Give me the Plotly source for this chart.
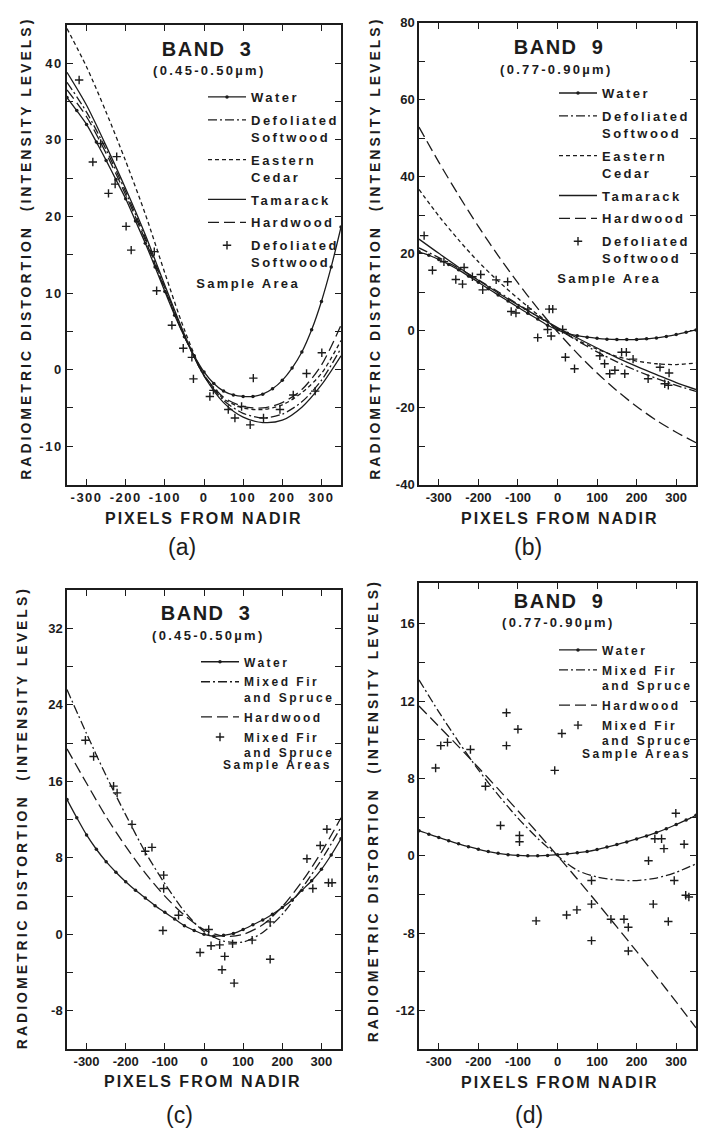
import plotly.graph_objects as go

# pixel positions (from nadir) at which the fitted curves were read
X50 = list(range(-350, 351, 50))
X25 = list(range(-350, 351, 25))

# ---- (a) band 3, defoliated softwood study
A_WATER = [35.5, 33.8, 32.0, 29.7, 27.3, 24.8, 22.3, 19.4, 16.5, 13.4, 10.2, 7.1, 4.3, 1.8, -0.3,
           -1.8, -2.8, -3.3, -3.5, -3.5, -3.2, -2.5, -1.4, 0.2, 2.3, 5.2, 8.9, 13.4, 18.6]
A_DEFOL = [37.5, 33.6, 28.7, 23.2, 17.2, 10.7, 4.4, -0.8, -4.0, -5.7, -6.3, -5.8, -4.2, -1.4, 2.8]
A_CEDAR = [44.5, 39.5, 33.6, 27.2, 20.3, 12.6, 5.2, -0.7, -3.8, -5.0, -5.2, -4.6, -3.0, -0.5, 3.8]
A_TAMARACK = [38.8, 34.5, 29.2, 23.6, 17.6, 11.0, 4.6, -0.8, -4.3, -6.2, -6.9, -6.6, -4.9, -2.0, 1.8]
A_HARDWOOD = [36.5, 33.0, 28.2, 22.8, 16.9, 10.5, 4.3, -0.7, -3.6, -4.8, -5.0, -4.3, -2.6, 0.6, 5.8]
A_SX = [-319, -284, -264, -244, -227, -223, -199, -186, -127, -121, -82, -53, -31, -27, 15, 24,
        62, 79, 96, 118, 126, 152, 194, 228, 262, 284, 301]
A_SY = [37.8, 27.1, 29.5, 23.0, 24.2, 27.8, 18.7, 15.6, 15.4, 10.3, 5.8, 2.8, 1.6, -1.2, -3.5, -2.7,
        -5.2, -6.3, -4.8, -7.2, -1.1, -6.3, -5.2, -3.3, -0.5, -2.8, 2.2]

# ---- (b) band 9, defoliated softwood study
B_WATER = [20.5, 19.6, 18.5, 17.2, 15.8, 14.2, 12.6, 10.9, 9.3, 7.7, 6.1, 4.5, 3.0, 1.4, 0.2,
           -0.7, -1.3, -1.7, -2.0, -2.2, -2.3, -2.3, -2.3, -2.1, -1.9, -1.5, -1.0, -0.4, 0.2]
B_DEFOL = [21.5, 19.0, 16.2, 13.2, 10.1, 6.9, 3.7, 0.5, -2.6, -5.5, -8.1, -10.4, -12.4, -14.2, -15.8]
B_CEDAR = [36.7, 29.8, 23.6, 17.9, 12.9, 8.4, 4.2, 0.5, -2.4, -4.8, -6.7, -7.9, -8.6, -8.8, -8.4]
B_TAMARACK = [23.8, 20.1, 16.5, 13.1, 9.8, 6.7, 3.7, 0.8, -1.9, -4.5, -7.0, -9.3, -11.4, -13.5, -15.3]
B_HARDWOOD = [52.9, 43.8, 35.2, 27.1, 19.5, 12.4, 5.8, -0.3, -5.9, -11.0, -15.6, -19.7, -23.3, -26.4, -29.1]
B_SX = [-337, -316, -287, -257, -240, -236, -215, -194, -189, -155, -126, -117, -105, -75, -50, -25,
        -21, -12, -16, 13, 20, 43, 107, 119, 132, 145, 162, 170, 174, 191, 229, 259, 271, 280, 282]
B_SY = [24.7, 15.7, 17.9, 13.3, 12.1, 16.4, 14.0, 14.6, 10.6, 13.2, 12.7, 5.0, 4.6, 5.6, -1.8, 0.3,
        5.6, 5.6, -1.4, 0.3, -6.9, -9.9, -6.5, -8.6, -11.2, -10.3, -5.6, -11.2, -5.6, -7.4, -12.5,
        -9.5, -13.8, -14.2, -11.0]

# ---- (c) band 3, mixed fir and spruce study
C_WATER = [14.1, 12.2, 10.4, 8.9, 7.6, 6.5, 5.5, 4.6, 3.8, 3.0, 2.3, 1.6, 0.9, 0.4, 0.0,
           -0.2, -0.1, 0.1, 0.5, 1.0, 1.5, 2.1, 2.8, 3.6, 4.6, 5.6, 6.8, 8.3, 10.0]
C_MIXED = [25.6, 21.0, 16.6, 12.5, 8.6, 5.3, 2.4, 0.3, -0.7, -0.8, 0.2, 2.1, 4.8, 7.8, 11.2]
C_HARDWOOD = [19.4, 15.8, 12.3, 9.2, 6.4, 4.0, 2.0, 0.5, -0.2, 0.0, 1.0, 2.9, 5.5, 8.6, 12.2]
C_SX = [-303, -282, -231, -222, -184, -150, -133, -103, -103, -65, -105, -10, 12, 18, 40, 46, 53,
        73, 77, 123, 169, 169, 263, 278, 297, 314, 318, 327]
C_SY = [20.3, 18.6, 15.5, 14.8, 11.5, 8.7, 9.1, 6.2, 4.8, 2.0, 0.4, -1.9, 0.5, -1.2, -1.1, -3.7, -2.3,
        -1.0, -5.1, -0.6, -2.6, 1.3, 7.9, 4.8, 9.3, 11.0, 5.4, 5.4]

# ---- (d) band 9, mixed fir and spruce study
# values are in the axis' own step units; the printed labels are uneven (16,12,8,0,-8,-12)
D_WATER = [1.3, 1.12, 0.95, 0.78, 0.62, 0.47, 0.34, 0.22, 0.13, 0.06, 0.02, 0.0, 0.0, 0.02, 0.06,
           0.1, 0.16, 0.22, 0.32, 0.45, 0.58, 0.72, 0.87, 1.03, 1.2, 1.4, 1.62, 1.85, 2.1]
D_MIXED = [9.1, 7.45, 5.9, 4.45, 3.15, 1.95, 0.9, 0.0, -0.75, -1.1, -1.25, -1.28, -1.15, -0.85, -0.42]
D_HARDWOOD = [7.75, 6.7, 5.65, 4.57, 3.46, 2.33, 1.18, 0.0, -1.2, -2.43, -3.68, -4.95, -6.25, -7.56, -8.9]
D_SX = [-308, -295, -278, -220, -182, -144, -129, -129, -100, -96, -96, -54, -7, 11, 23, 49, 86, 86,
        86, 135, 168, 179, 179, 230, 242, 246, 263, 269, 280, 295, 299, 320, 324, 332]
D_SY = [4.54, 5.7, 5.87, 5.5, 3.6, 1.57, 7.4, 5.7, 6.55, 1.05, 0.73, -3.37, 4.42, 6.33, -3.06, -2.8,
        -1.28, -2.5, -4.39, -3.28, -3.28, -3.7, -4.93, -0.26, -2.5, 0.88, 0.88, 0.37, -3.4, -1.28,
        2.2, 0.6, -2.04, -2.13]

# tick labels
X_TICKS = [-300, -200, -100, 0, 100, 200, 300]
A_YTICKS = [-10, -5, 0, 5, 10, 15, 20, 25, 30, 35, 40]
A_YTEXT = ['-10', '', '0', '', '10', '', '20', '', '30', '', '40']
B_YTICKS = [-40, -30, -20, -10, 0, 10, 20, 30, 40, 50, 60, 70, 80]
B_YTEXT = ['-40', '', '-20', '', '0', '', '20', '', '40', '', '60', '', '80']
C_YTICKS = [-8, -4, 0, 4, 8, 12, 16, 20, 24, 28, 32]
C_YTEXT = ['-8', '', '0', '', '8', '', '16', '', '24', '', '32']
D_YTICKS = [-8, -6, -4, -2, 0, 2, 4, 6, 8, 10, 12]
D_YTEXT = ['-12', '', '-8', '', '0', '', '8', '', '12', '', '16']

INK = '#1c1c1c'
FONT = 'Liberation Sans, Arial, sans-serif'
W, H = 702, 1136

DASH = {
    'water': 'solid',
    'defol': '9px,3px,2px,3px',
    'cedar': '4px,3px',
    'tamarack': 'solid',
    'hardwood': '11px,5px',
}

fig = go.Figure()


def curve(x, y, name, kind, ax, leg):
    water = kind == 'water'
    n = len(fig.data)
    fig.add_trace(go.Scatter(
        x=x, y=y, name=name, mode='lines+markers' if water else 'lines',
        line=dict(color=INK, width=1.3, dash=DASH[kind], shape='spline', smoothing=0.8),
        marker=dict(size=3.5, color=INK),
        xaxis='x' + ax, yaxis='y' + ax, legend=leg,
        legendgroup=f'g{n}', legendrank=n, hoverinfo='skip'))


def samples(x, y, name, ax, leg):
    n = len(fig.data)
    fig.add_trace(go.Scatter(
        x=x, y=y, name=name, mode='markers',
        marker=dict(symbol='cross-thin', size=6, line=dict(color=INK, width=1.4)),
        xaxis='x' + ax, yaxis='y' + ax, legend=leg,
        legendgroup=f'g{n}', legendrank=n, hoverinfo='skip'))


# (a)
curve(X25, A_WATER, 'Water', 'water', '', 'legend')
curve(X50, A_DEFOL, 'Defoliated<br>Softwood', 'defol', '', 'legend')
curve(X50, A_CEDAR, 'Eastern<br>Cedar', 'cedar', '', 'legend')
curve(X50, A_TAMARACK, 'Tamarack', 'tamarack', '', 'legend')
curve(X50, A_HARDWOOD, 'Hardwood', 'hardwood', '', 'legend')
samples(A_SX, A_SY, 'Defoliated<br>Softwood', '', 'legend')
# (b)
curve(X25, B_WATER, 'Water', 'water', '2', 'legend2')
curve(X50, B_DEFOL, 'Defoliated<br>Softwood', 'defol', '2', 'legend2')
curve(X50, B_CEDAR, 'Eastern<br>Cedar', 'cedar', '2', 'legend2')
curve(X50, B_TAMARACK, 'Tamarack', 'tamarack', '2', 'legend2')
curve(X50, B_HARDWOOD, 'Hardwood', 'hardwood', '2', 'legend2')
samples(B_SX, B_SY, 'Defoliated<br>Softwood', '2', 'legend2')
# (c)
curve(X25, C_WATER, 'Water', 'water', '3', 'legend3')
curve(X50, C_MIXED, 'Mixed Fir<br>and Spruce', 'defol', '3', 'legend3')
curve(X50, C_HARDWOOD, 'Hardwood', 'hardwood', '3', 'legend3')
samples(C_SX, C_SY, 'Mixed Fir<br>and Spruce', '3', 'legend3')
# (d)
curve(X25, D_WATER, 'Water', 'water', '4', 'legend4')
curve(X50, D_MIXED, 'Mixed Fir<br>and Spruce', 'defol', '4', 'legend4')
curve(X50, D_HARDWOOD, 'Hardwood', 'hardwood', '4', 'legend4')
samples(D_SX, D_SY, 'Mixed Fir<br>and Spruce', '4', 'legend4')


def axis(**kw):
    base = dict(showline=True, linecolor=INK, linewidth=1.5, mirror='ticks',
                ticks='inside', ticklen=6, tickwidth=1.3, tickcolor=INK,
                showgrid=False, zeroline=False, fixedrange=True,
                tickfont=dict(family=FONT, size=13, color=INK, weight='bold'))
    base.update(kw)
    return base


def xaxis(dom, anchor):
    return axis(domain=dom, anchor=anchor, range=[-350, 350],
                tickmode='array', tickvals=X_TICKS, ticktext=[str(v) for v in X_TICKS])


def yaxis(dom, anchor, rng, vals, text):
    return axis(domain=dom, anchor=anchor, range=rng, tickmode='array',
                tickvals=vals, ticktext=text)


LEFT = [67 / W, 341 / W]
RIGHT = [419 / W, 696 / W]


def py(p):
    return 1 - p / H


def legend(x_px, y_px, size, gap):
    return dict(x=x_px / W, y=py(y_px), xanchor='left', yanchor='top',
                bgcolor='rgba(0,0,0,0)', borderwidth=0, valign='top',
                tracegroupgap=gap, itemwidth=38, itemclick=False, itemdoubleclick=False,
                font=dict(family=FONT, size=size, color=INK, weight='bold'))


annotations = []


def note(text, x_px, y_px, size, bold=True, angle=0):
    annotations.append(dict(
        text=text, x=x_px / W, y=py(y_px), xref='paper', yref='paper',
        showarrow=False, textangle=angle, xanchor='center', yanchor='middle',
        font=dict(family=FONT, size=size, color=INK, weight='bold' if bold else 'normal')))


YTITLE = 'RADIOMETRIC DISTORTION\u00a0 (INTENSITY LEVELS)'
for xt, yt, xc, px_y, lab_x, lab_y, lab in [
        (26, 245, 204, 518, 182, 547, '(a)'), (375, 245, 560, 518, 528, 547, '(b)'),
        (22, 822, 203, 1089, 180, 1123, '(c)'), (373, 815, 560, 1090, 529, 1123, '(d)')]:
    note(YTITLE, xt, yt, 14, angle=-90)
    note('PIXELS FROM NADIR', xc, px_y, 16)
    note(lab, lab_x, lab_y, 23, bold=False)

note('BAND\u00a0 3', 207, 43, 20)
note('(0.45-0.50µm)', 209, 64, 13)
note('BAND\u00a0 9', 559, 41, 20)
note('(0.77-0.90µm)', 556, 63, 13)
note('BAND\u00a0 3', 206, 614, 20)
note('(0.45-0.50µm)', 208, 637, 13)
note('BAND\u00a0 9', 559, 602, 20)
note('(0.77-0.90µm)', 558, 624, 13)

# last line of the sample-area legend entries sits out to the left, under the "+"
note('Sample Area', 248, 280, 13)
note('Sample Area', 609, 275, 13)
note('Sample Areas', 277, 768, 12)
note('Sample Areas', 636, 757, 12)

fig.update_layout(
    width=W, height=H, autosize=False,
    margin=dict(l=0, r=0, t=0, b=0),
    paper_bgcolor='white', plot_bgcolor='white',
    showlegend=True,
    xaxis=xaxis(LEFT, 'y'),
    yaxis=yaxis([py(484), py(18)], 'x', [-15, 45], A_YTICKS, A_YTEXT),
    xaxis2=xaxis(RIGHT, 'y2'),
    yaxis2=yaxis([py(484), py(16)], 'x2', [-40, 80], B_YTICKS, B_YTEXT),
    xaxis3=xaxis(LEFT, 'y3'),
    yaxis3=yaxis([py(1056), py(591)], 'x3', [-12, 36], C_YTICKS, C_YTEXT),
    xaxis4=xaxis(RIGHT, 'y4'),
    yaxis4=yaxis([py(1056), py(584)], 'x4', [-10, 14.1], D_YTICKS, D_YTEXT),
    legend=legend(203, 76, 13, 3),
    legend2=legend(554, 72, 13, 3),
    legend3=legend(196, 649, 12, 1),
    legend4=legend(554, 637, 12, 1),
    annotations=annotations,
)

# hand-lettered look: a stylesheet that widens the letter spacing of the texts
POST = """
document.body.style.margin = '0';
var css = document.createElement('style');
css.textContent = [
  '.xtick text, .ytick text { letter-spacing: 1.5px; }',
  'text.legendtext, text.legend2text, text.legend3text, text.legend4text { letter-spacing: 2.5px; }',
  '.scrollbox { clip-path: none !important; }',
  '.annotation-text[style*="font-size: 14px"] { letter-spacing: 3px; }',
  '.annotation-text[style*="font-size: 16px"] { letter-spacing: 2px; }',
  '.annotation-text[style*="font-size: 13px"] { letter-spacing: 2.3px; }',
  '.annotation-text[style*="font-size: 12px"] { letter-spacing: 2.5px; }',
  '.annotation-text[style*="font-size: 20px"] { letter-spacing: 1.5px; }'
].join('\\n');
document.head.appendChild(css);
"""

fig.write_html("out.html", post_script=POST, config={'displayModeBar': False})
